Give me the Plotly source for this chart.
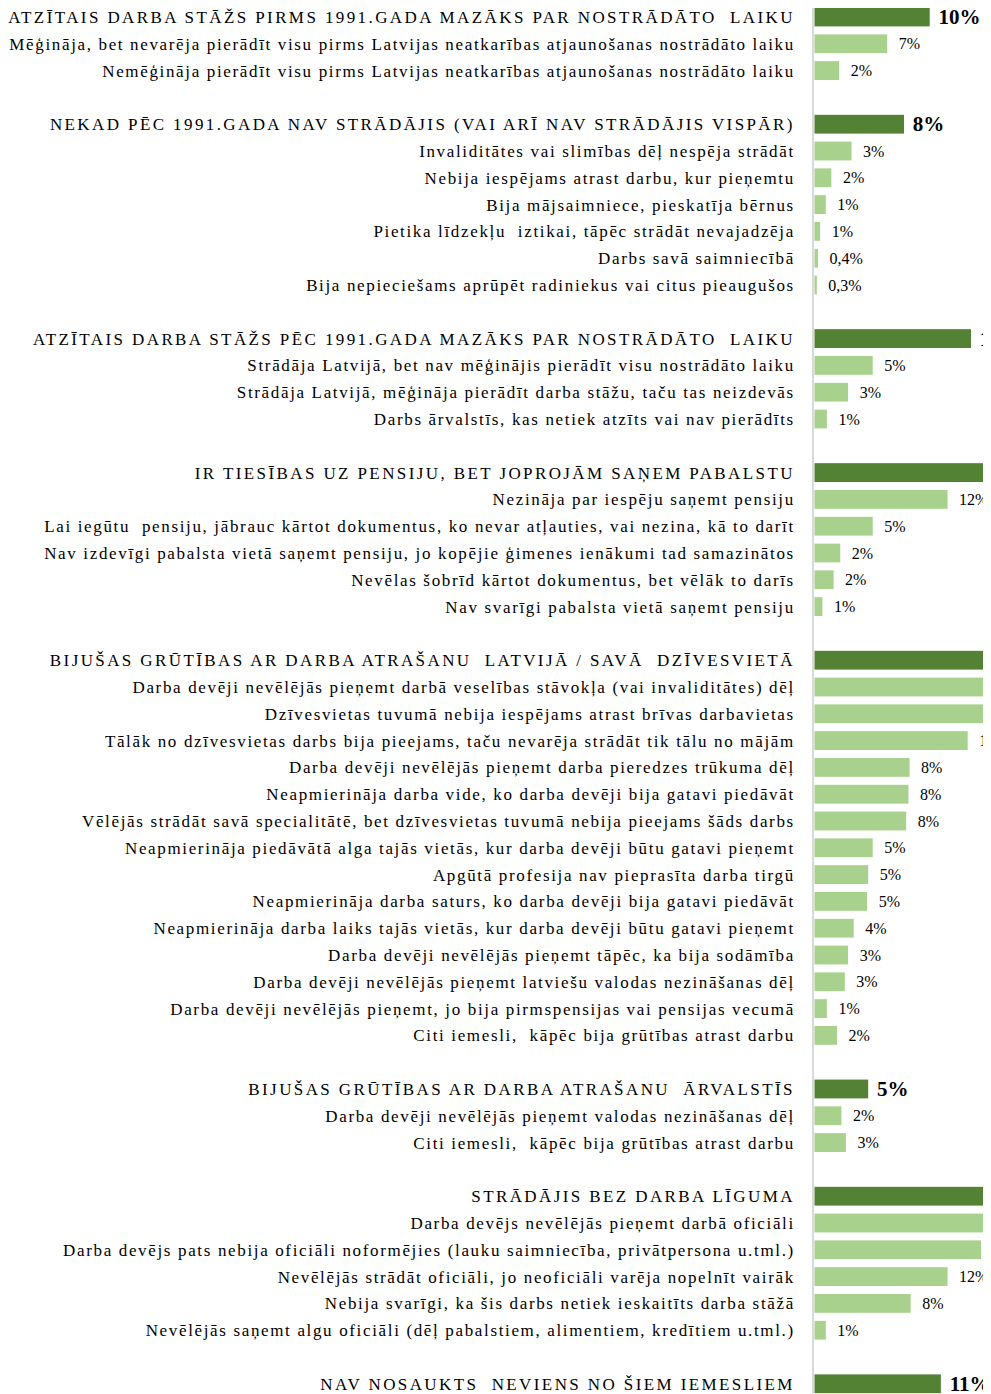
import plotly.graph_objects as go

# ---- data -------------------------------------------------------------
group_titles = [
    "ATZĪTAIS DARBA STĀŽS PIRMS 1991.GADA MAZĀKS PAR NOSTRĀDĀTO  LAIKU",
    "NEKAD PĒC 1991.GADA NAV STRĀDĀJIS (VAI ARĪ NAV STRĀDĀJIS VISPĀR)",
    "ATZĪTAIS DARBA STĀŽS PĒC 1991.GADA MAZĀKS PAR NOSTRĀDĀTO  LAIKU",
    "IR TIESĪBAS UZ PENSIJU, BET JOPROJĀM SAŅEM PABALSTU",
    "BIJUŠAS GRŪTĪBAS AR DARBA ATRAŠANU  LATVIJĀ / SAVĀ  DZĪVESVIETĀ",
    "BIJUŠAS GRŪTĪBAS AR DARBA ATRAŠANU  ĀRVALSTĪS",
    "STRĀDĀJIS BEZ DARBA LĪGUMA",
    "NAV NOSAUKTS  NEVIENS NO ŠIEM IEMESLIEM",
]
group_values = [10.4, 8.1, 14.1, 22.0, 40.0, 4.9, 30.0, 11.4]
group_texts = ["10%", "8%", "14%", "22%", "40%", "5%", "30%", "11%"]

reason_labels = [
    ["Mēģināja, bet nevarēja pierādīt visu pirms Latvijas neatkarības atjaunošanas nostrādāto laiku",
     "Nemēģināja pierādīt visu pirms Latvijas neatkarības atjaunošanas nostrādāto laiku"],
    ["Invaliditātes vai slimības dēļ nespēja strādāt",
     "Nebija iespējams atrast darbu, kur pieņemtu",
     "Bija mājsaimniece, pieskatīja bērnus",
     "Pietika līdzekļu  iztikai, tāpēc strādāt nevajadzēja",
     "Darbs savā saimniecībā",
     "Bija nepieciešams aprūpēt radiniekus vai citus pieaugušos"],
    ["Strādāja Latvijā, bet nav mēģinājis pierādīt visu nostrādāto laiku",
     "Strādāja Latvijā, mēģināja pierādīt darba stāžu, taču tas neizdevās",
     "Darbs ārvalstīs, kas netiek atzīts vai nav pierādīts"],
    ["Nezināja par iespēju saņemt pensiju",
     "Lai iegūtu  pensiju, jābrauc kārtot dokumentus, ko nevar atļauties, vai nezina, kā to darīt",
     "Nav izdevīgi pabalsta vietā saņemt pensiju, jo kopējie ģimenes ienākumi tad samazinātos",
     "Nevēlas šobrīd kārtot dokumentus, bet vēlāk to darīs",
     "Nav svarīgi pabalsta vietā saņemt pensiju"],
    ["Darba devēji nevēlējās pieņemt darbā veselības stāvokļa (vai invaliditātes) dēļ",
     "Dzīvesvietas tuvumā nebija iespējams atrast brīvas darbavietas",
     "Tālāk no dzīvesvietas darbs bija pieejams, taču nevarēja strādāt tik tālu no mājām",
     "Darba devēji nevēlējās pieņemt darba pieredzes trūkuma dēļ",
     "Neapmierināja darba vide, ko darba devēji bija gatavi piedāvāt",
     "Vēlējās strādāt savā specialitātē, bet dzīvesvietas tuvumā nebija pieejams šāds darbs",
     "Neapmierināja piedāvātā alga tajās vietās, kur darba devēji būtu gatavi pieņemt",
     "Apgūtā profesija nav pieprasīta darba tirgū",
     "Neapmierināja darba saturs, ko darba devēji bija gatavi piedāvāt",
     "Neapmierināja darba laiks tajās vietās, kur darba devēji būtu gatavi pieņemt",
     "Darba devēji nevēlējās pieņemt tāpēc, ka bija sodāmība",
     "Darba devēji nevēlējās pieņemt latviešu valodas nezināšanas dēļ",
     "Darba devēji nevēlējās pieņemt, jo bija pirmspensijas vai pensijas vecumā",
     "Citi iemesli,  kāpēc bija grūtības atrast darbu"],
    ["Darba devēji nevēlējās pieņemt valodas nezināšanas dēļ",
     "Citi iemesli,  kāpēc bija grūtības atrast darbu"],
    ["Darba devējs nevēlējās pieņemt darbā oficiāli",
     "Darba devējs pats nebija oficiāli noformējies (lauku saimniecība, privātpersona u.tml.)",
     "Nevēlējās strādāt oficiāli, jo neoficiāli varēja nopelnīt vairāk",
     "Nebija svarīgi, ka šis darbs netiek ieskaitīts darba stāžā",
     "Nevēlējās saņemt algu oficiāli (dēļ pabalstiem, alimentiem, kredītiem u.tml.)"],
    [],
]
reason_values = [
    [6.6, 2.3],
    [3.4, 1.6, 1.1, 0.6, 0.4, 0.3],
    [5.3, 3.1, 1.2],
    [12.0, 5.3, 2.4, 1.8, 0.8],
    [19.0, 17.0, 13.8, 8.6, 8.5, 8.3, 5.3, 4.9, 4.8, 3.6, 3.1, 2.8, 1.2, 2.1],
    [2.5, 2.9],
    [19.0, 15.0, 12.0, 8.7, 1.1],
    [],
]
reason_texts = [
    ["7%", "2%"],
    ["3%", "2%", "1%", "1%", "0,4%", "0,3%"],
    ["5%", "3%", "1%"],
    ["12%", "5%", "2%", "2%", "1%"],
    ["19%", "17%", "14%", "8%", "8%", "8%", "5%", "5%", "5%", "4%", "3%", "3%", "1%", "2%"],
    ["2%", "3%"],
    ["19%", "15%", "12%", "8%", "1%"],
    [],
]

# ---- build rows (header row, its reasons, one blank row) -------------
head_y, sub_y, tickvals, ticktext = [], [], [], []
sub_x, sub_t = [], []
row = 0
for g, title in enumerate(group_titles):
    head_y.append(row)
    tickvals.append(row)
    ticktext.append('<span style="letter-spacing:2.4px">' + title + '</span>')
    row += 1
    for lab, v, t in zip(reason_labels[g], reason_values[g], reason_texts[g]):
        sub_y.append(row)
        sub_x.append(v)
        sub_t.append(t)
        tickvals.append(row)
        ticktext.append('<span style="letter-spacing:1.65px">' + lab + '</span>')
        row += 1
    row += 1

DARK = "#548235"
LIGHT = "#A9D18E"

fig = go.Figure()
fig.add_trace(go.Bar(
    x=group_values, y=head_y, orientation="h", width=0.74,
    marker=dict(color=DARK, line=dict(color="white", width=1)),
    text=group_texts, texttemplate=" %{text}", textposition="outside",
    textfont=dict(family="Liberation Serif", size=21, color="black", weight="bold"),
    constraintext="none", cliponaxis=True, hoverinfo="skip",
))
fig.add_trace(go.Bar(
    x=sub_x, y=sub_y, orientation="h", width=0.74,
    marker=dict(color=LIGHT, line=dict(color="white", width=1)),
    text=sub_t, texttemplate="  %{text}", textposition="outside",
    textfont=dict(family="Liberation Serif", size=16, color="black"),
    constraintext="none", cliponaxis=True, hoverinfo="skip",
))

# page body adds an 8px margin, so the figure is sized to fill the rest
W, H = 983, 1386
LEFT = 804
ROW_PX = 26.8
top_val = -9 / ROW_PX
span = H / ROW_PX

fig.update_layout(
    width=W, height=H,
    margin=dict(l=LEFT, r=0, t=0, b=0, pad=0),
    paper_bgcolor="white", plot_bgcolor="white",
    showlegend=False, barmode="overlay",
    font=dict(family="Liberation Serif", color="black"),
)
fig.update_xaxes(range=[0, (W - LEFT) / 11.3], showgrid=False, zeroline=False,
                 showticklabels=False, showline=False, ticks="")
fig.update_yaxes(range=[top_val + span, top_val], tickvals=tickvals, ticktext=ticktext,
                 ticklabeloverflow="allow",
                 showgrid=False, zeroline=False, showline=True, linecolor="#d9d9d9",
                 linewidth=1.5, ticks="outside", ticklen=14, tickcolor="rgba(0,0,0,0)",
                 tickfont=dict(family="Liberation Serif", size=17, color="black"))

fig.write_html("out.html")
